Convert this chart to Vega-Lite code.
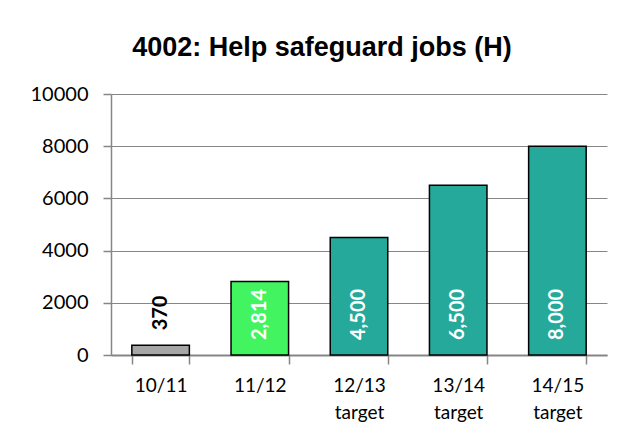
{
  "$schema": "https://vega.github.io/schema/vega-lite/v6.json",
  "width": 496,
  "height": 261,
  "autosize": {"type": "none"},
  "padding": {"left": 111, "top": 94, "right": 23, "bottom": 87},
  "background": "white",
  "config": {"view": {"stroke": null}},
  "title": {
    "text": "4002: Help safeguard jobs (H)",
    "font": "Liberation Sans",
    "fontSize": 27,
    "fontWeight": "bold",
    "color": "black",
    "anchor": "middle",
    "dx": -37,
    "offset": 22
  },
  "data": {
    "values": [
      {"period": "10/11", "jobs": 370, "kind": "actual_prev"},
      {"period": "11/12", "jobs": 2814, "kind": "actual"},
      {"period": "12/13 target", "jobs": 4500, "kind": "target"},
      {"period": "13/14 target", "jobs": 6500, "kind": "target"},
      {"period": "14/15 target", "jobs": 8000, "kind": "target"}
    ]
  },
  "encoding": {
    "x": {
      "field": "period",
      "type": "nominal",
      "sort": null,
      "scale": {"paddingInner": 0.42, "paddingOuter": 0.21},
      "axis": {
        "title": null,
        "labelAngle": 0,
        "labelFont": "Lato",
        "labelFontSize": 19,
        "labelColor": "black",
        "labelPadding": 12,
        "labelLineHeight": 27,
        "labelExpr": "split(datum.label, ' ')",
        "tickBand": "extent",
        "tickColor": "#868686",
        "tickSize": 9,
        "tickWidth": 1.5,
        "domainColor": "#868686",
        "domainWidth": 2,
        "grid": false
      }
    }
  },
  "layer": [
    {
      "mark": {"type": "bar", "stroke": "black", "strokeWidth": 1.5},
      "encoding": {
        "y": {
          "field": "jobs",
          "type": "quantitative",
          "scale": {"domain": [0, 10000], "nice": false},
          "axis": {
            "title": null,
            "values": [0, 2000, 4000, 6000, 8000, 10000],
            "format": "d",
            "labelFont": "Lato",
            "labelFontSize": 20,
            "labelColor": "black",
            "labelPadding": 15,
            "tickSize": 8,
            "tickColor": "#868686",
            "tickWidth": 1.5,
            "domainColor": "#868686",
            "domainWidth": 1.5,
            "gridColor": "#868686",
            "gridWidth": 1
          }
        },
        "color": {
          "field": "kind",
          "type": "nominal",
          "scale": {
            "domain": ["actual_prev", "actual", "target"],
            "range": ["#A6A6A6", "#42F560", "#25A99B"]
          },
          "legend": null
        }
      }
    },
    {
      "transform": [{"filter": "datum.kind == 'actual_prev'"}],
      "mark": {
        "type": "text",
        "angle": 270,
        "align": "left",
        "baseline": "middle",
        "dx": 15,
        "font": "Lato",
        "fontSize": 20,
        "fontWeight": "bold",
        "color": "black"
      },
      "encoding": {
        "y": {"field": "jobs", "type": "quantitative"},
        "text": {"field": "jobs", "type": "quantitative", "format": ",d"}
      }
    },
    {
      "transform": [{"filter": "datum.kind != 'actual_prev'"}],
      "mark": {
        "type": "text",
        "angle": 270,
        "align": "left",
        "baseline": "middle",
        "dx": 15,
        "font": "Lato",
        "fontSize": 20,
        "fontWeight": "bold",
        "color": "white"
      },
      "encoding": {
        "y": {"datum": 0, "type": "quantitative"},
        "text": {"field": "jobs", "type": "quantitative", "format": ",d"}
      }
    }
  ]
}
